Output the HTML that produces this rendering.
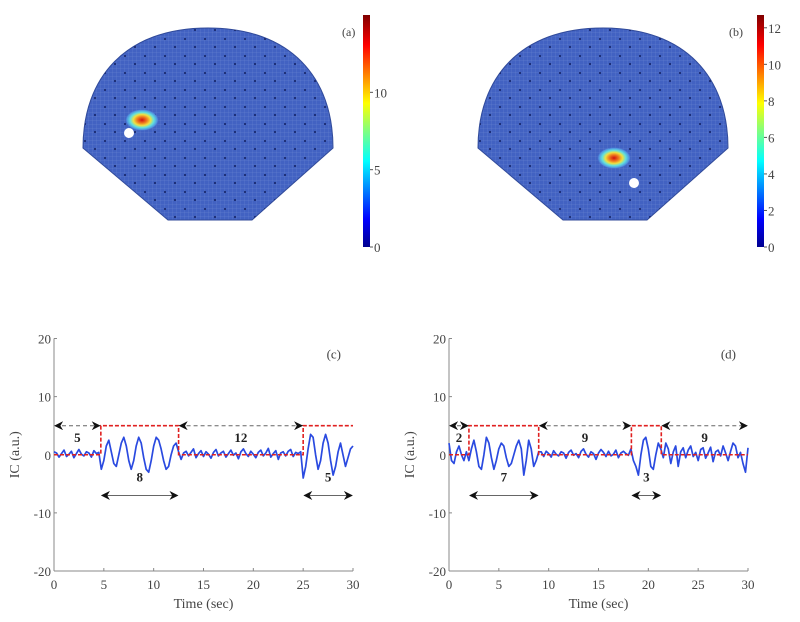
<!DOCTYPE html>
<html><head><meta charset="utf-8"><style>
html,body{margin:0;padding:0;background:#fff;width:800px;height:622px;overflow:hidden}
svg{display:block}
text{font-family:"Liberation Serif",serif;fill:#444}
</style></head><body>
<svg id="fig" width="800" height="622" viewBox="0 0 800 622">
<defs>
<linearGradient id="jet" x1="0" y1="1" x2="0" y2="0">
<stop offset="0" stop-color="#00008f"/><stop offset="0.12" stop-color="#0000ff"/><stop offset="0.37" stop-color="#00ffff"/>
<stop offset="0.5" stop-color="#80ff80"/><stop offset="0.62" stop-color="#ffff00"/><stop offset="0.87" stop-color="#ff0000"/><stop offset="1" stop-color="#800000"/>
</linearGradient>
<radialGradient id="hot">
<stop offset="0" stop-color="#d01010"/><stop offset="0.3" stop-color="#f08020"/><stop offset="0.5" stop-color="#f0e040"/>
<stop offset="0.7" stop-color="#60e0e0"/><stop offset="0.9" stop-color="#5090e0"/><stop offset="1" stop-color="#4060c0" stop-opacity="0"/>
</radialGradient>
<pattern id="grid" width="4" height="4" patternUnits="userSpaceOnUse">
<rect width="4" height="4" fill="#4262c2"/><path d="M0 0H4M0 0V4" stroke="#6a85d0" stroke-width="0.5"/>
</pattern>
<pattern id="dots" width="20" height="17" patternUnits="userSpaceOnUse">
<circle cx="5" cy="5" r="1.1" fill="#1a2a70"/><circle cx="15" cy="13" r="1.1" fill="#1a2a70"/>
</pattern>
<marker id="ah" viewBox="0 0 10 10" refX="9" refY="5" markerWidth="9" markerHeight="9" orient="auto-start-reverse">
<path d="M0 0L10 5L0 10L3 5Z" fill="#111"/></marker>
</defs>
<g id="heads"></g>
<g id="plots"></g>
</svg>
<script>
// ---- data ----
const timeStep = 0.25;
const signalC = [0.5,0.3,-0.4,0.2,0.8,-0.3,0.1,0.6,-0.5,0.2,0.9,0.1,-0.2,0.5,0.3,-0.4,0.7,0.2,0.4,
-2.5,-1,1.5,2.5,0.5,-1.5,-2,0,2,3,1.5,-1,-2.5,-1,1.5,3,2,-0.5,-2.5,-3,-1,1.5,3,2.5,1,-1,-2.5,-2,0,1.5,2,0.5,
-0.8,0.3,0.6,-0.2,0.4,1,-0.5,0.2,0.7,-0.3,0.5,0.1,-0.6,0.4,0.9,-0.2,0.3,0.6,-0.4,0.2,0.8,-0.1,0.3,-0.7,0.5,1,0.2,-0.3,0.6,0.1,-0.5,0.4,0.8,-0.2,0.3,1.1,-0.4,0.2,0.7,-0.8,0.3,0.5,-0.2,0.6,0.9,-0.3,0.4,0.2,0.5,
-4,-2,1,3.5,3,0,-2.5,-1,2,3.5,2,-1,-3.5,-2,0.5,2,0,-2,-0.5,1,1.5];
const signalD = [2,-1,-1.5,0.5,1.5,0,-1,0.5,
-1,1,2.5,0.5,-2,-2.5,0,3,2,-0.5,-2.5,-1,1,2,1.5,-0.5,-2,-1.5,0,1.5,2.5,1,-3.5,-1,2.5,1,-2,-1,0.5,
0.5,-0.3,0.6,0.2,-0.4,0.7,0.1,-0.2,0.5,0.3,-0.6,0.4,0.8,-0.1,0.2,-0.5,0.6,1,0.1,-0.4,0.5,0.2,-0.8,0.3,0.9,0.4,-0.3,0.6,-0.2,0.1,0.8,-0.5,0.3,0.6,0.2,-0.1,1,
-1,-2,-3.5,0,2.5,3,1,-2,-2.5,0,2,1,
-0.5,2,1,-1.5,0.5,1.5,-2,0.5,1.2,-0.5,0.8,1.5,-0.3,0.4,-1,0.9,1.2,-0.6,0.3,1.3,-1.2,0.5,0.8,-0.2,1.5,0.3,-1,0.6,2,1.5,-0.5,0.4,-1.5,-3,1.2];
const stepTimesC = [0,4.7,12.5,25,30];
const stepLevelsC = [0,5,0,5];
const stepTimesD = [0,2,9,18.3,21.3,30];
const stepLevelsD = [0,5,0,5,0];
const offLabelsC = ["5","12"], offSpansC = [[0,4.7],[12.5,25]];
const onLabelsC = ["8","5"], onSpansC = [[4.7,12.5],[25,30]];
const offLabelsD = ["2","9","9"], offSpansD = [[0,2],[9,18.3],[21.3,30]];
const onLabelsD = ["7","3"], onSpansD = [[2,9],[18.3,21.3]];
const xTicks = [0,5,10,15,20,25,30];
const yTicks = [20,10,0,-10,-20];
const cbarTicksA = [0,5,10], cbarMaxA = 15;
const cbarTicksB = [0,2,4,6,8,10,12], cbarMaxB = 12.7;

const NS="http://www.w3.org/2000/svg";
function mk(tag,attrs,parent){const e=document.createElementNS(NS,tag);for(const k in attrs)e.setAttribute(k,attrs[k]);parent.appendChild(e);return e;}

// ---- heads ----
const heads=document.getElementById('heads');
function head(dx,label,hx,hy,wx,wy,cbx,ticks,max,lblx){
  const g=mk('g',{transform:`translate(${dx},0)`},heads);
  
  
  const d="M83 148 C83 78 125 28 208 28 C291 28 333 78 333 148 L252 220 L168 220 Z";
  const p=mk('path',{d:d,fill:'url(#grid)',stroke:'#304a9a','stroke-width':1},g);
  
  mk('path',{d:d,fill:'url(#dots)'},g);
  const h=mk('ellipse',{cx:hx,cy:hy,rx:17,ry:11,fill:'url(#hot)'},g);
  
  const w=mk('circle',{cx:wx,cy:wy,r:5,fill:'#fff'},g);
  
  const cb=mk('rect',{x:cbx,y:15,width:7,height:232,fill:'url(#jet)'},heads);
  
  ticks.forEach(t=>{const y=247-232*t/max;
    mk('line',{x1:cbx+7,x2:cbx+10,y1:y,y2:y,stroke:'#555'},heads);
    const tx=mk('text',{x:cbx+11,y:y+5,'font-size':13},heads);tx.textContent=t;
    });
  const l=mk('text',{x:lblx,y:36,'font-size':12},heads);l.textContent='('+label+')';
  
}
head(0,'a',142,120,129,133,363,cbarTicksA,cbarMaxA,342);
head(395,'b',219,158,239,183,757,cbarTicksB,cbarMaxB,729);

// ---- plots ----
const plots=document.getElementById('plots');
function plot(x0,x1,label,sig,stT,stL,offL,offS,onL,onS){
  const y0=338.5,y1=571;
  const X=t=>x0+(x1-x0)*t/30, Y=v=>y0+(y1-y0)*(20-v)/40;
  const g=mk('g',{},plots);
  
  mk('line',{x1:x0,x2:x0,y1:y0,y2:y1,stroke:'#888'},g);
  mk('line',{x1:x0,x2:x1,y1:y1,y2:y1,stroke:'#888'},g);
  xTicks.forEach(t=>{mk('line',{x1:X(t),x2:X(t),y1:y1,y2:y1-3,stroke:'#888'},g);
    const tx=mk('text',{x:X(t),y:y1+18,'font-size':13,'text-anchor':'middle'},g);tx.textContent=t;
    });
  yTicks.forEach(v=>{mk('line',{x1:x0,x2:x0+3,y1:Y(v),y2:Y(v),stroke:'#888'},g);
    const tx=mk('text',{x:x0-3,y:Y(v)+5,'font-size':13,'text-anchor':'end'},g);tx.textContent=v;
    });
  const xt=mk('text',{x:(x0+x1)/2,y:y1+37,'font-size':14,'text-anchor':'middle'},g);xt.textContent='Time (sec)';
  
  const yt=mk('text',{x:0,y:0,'font-size':14,'text-anchor':'middle',transform:`translate(${x0-35},${Y(0)}) rotate(-90)`},g);yt.textContent='IC (a.u.)';
  
  const pl=mk('text',{x:x1-12,y:y0+20,'font-size':13,'text-anchor':'end'},g);pl.textContent='('+label+')';
  
  // signal
  let d='';sig.forEach((v,i)=>{d+=(i?'L':'M')+X(i*timeStep).toFixed(1)+' '+Y(v).toFixed(1);});
  const s=mk('path',{d:d,fill:'none',stroke:'#2a4ae0','stroke-width':1.7,'stroke-linejoin':'round'},g);
  
  // step
  let sd='M'+X(stT[0])+' '+Y(stL[0]);
  for(let i=0;i<stL.length;i++){sd+='L'+X(stT[i])+' '+Y(stL[i])+'L'+X(stT[i+1])+' '+Y(stL[i]);}
  const st=mk('path',{d:sd,fill:'none',stroke:'#e02020','stroke-width':1.6,'stroke-dasharray':'4 2'},g);
  
  // arrows
  offS.forEach((sp,i)=>{
    const a=mk('line',{x1:X(sp[0])+1,x2:X(sp[1])-1,y1:Y(5),y2:Y(5),stroke:'#666','stroke-dasharray':'4 3','marker-start':'url(#ah)','marker-end':'url(#ah)'},g);
    
    const t=mk('text',{x:X((sp[0]+sp[1])/2),y:Y(2.2),'font-size':13,'font-weight':'bold','text-anchor':'middle'},g);t.textContent=offL[i];t.style.fill='#222';
    });
  onS.forEach((sp,i)=>{
    const a=mk('line',{x1:X(sp[0])+1,x2:X(sp[1])-1,y1:Y(-7),y2:Y(-7),stroke:'#666','marker-start':'url(#ah)','marker-end':'url(#ah)'},g);
    
    const t=mk('text',{x:X((sp[0]+sp[1])/2),y:Y(-4.6),'font-size':13,'font-weight':'bold','text-anchor':'middle'},g);t.textContent=onL[i];t.style.fill='#222';
    });
}
plot(54,353,'c',signalC,stepTimesC,stepLevelsC,offLabelsC,offSpansC,onLabelsC,onSpansC);
plot(449,748,'d',signalD,stepTimesD,stepLevelsD,offLabelsD,offSpansD,onLabelsD,onSpansD);
</script>
</body></html>
